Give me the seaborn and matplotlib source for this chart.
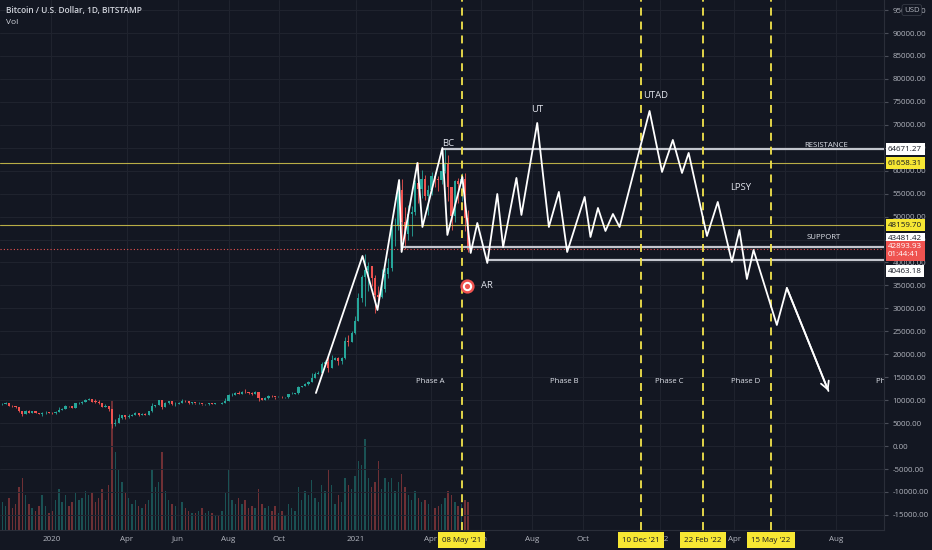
import numpy as np
import pandas as pd
import matplotlib
matplotlib.use("Agg")
import matplotlib.pyplot as plt
import matplotlib.dates as mdates
import matplotlib.transforms as mtransforms
from matplotlib.ticker import FixedLocator, FuncFormatter
import seaborn as sns

# colours (tradingview dark)
BG = "#131722"
GRID = "#20242f"
TXT = "#b2b5be"
UP = "#26a69a"
DOWN = "#ef5350"
YEL = "#f2e34c"
WHITE = "#e0e3eb"

# ---- candles, 4 day bars, BTCUSD Bitstamp ----
candle_start = "2019-11-01"
candle_step_days = 4
first_open = 9150
closes = [9250, 9300, 8800, 8700, 8500, 7600, 7050, 7750, 7300, 7550,
          7200, 7100, 7150, 7300, 7250, 7200, 7350, 7950, 8150, 8750,
          8650, 8400, 9350, 9350, 9600, 10150, 10250, 9700, 9650, 9300,
          8550, 8750, 8050, 4850, 5000, 6200, 6750, 6250, 6650, 6800,
          7300, 6850, 7050, 6850, 7550, 8800, 8900, 9950, 8600, 9350,
          9750, 9180, 9200, 9450, 9800, 9750, 9450, 9500, 9300, 9300,
          9100, 9100, 9350, 9250, 9250, 9150, 9400, 9900, 11100, 11200,
          11600, 11400, 11850, 11750, 11650, 11350, 11700, 10500, 10100, 10400,
          10950, 10900, 10700, 10700, 10600, 10600, 11300, 11450, 11500, 12950,
          13050, 13550, 14000, 14850, 15700, 15950, 17800, 18400, 17100, 18800,
          19150, 18550, 19200, 22800, 22700, 24700, 27350, 32200, 36800, 38300,
          39200, 36600, 33000, 32500, 34300, 37600, 38900, 47900, 47900, 55900,
          48800, 46300, 50500, 51100, 57300, 56000, 58100, 54400, 55900, 58800,
          58200, 58000, 60000, 61400, 56400, 50100, 57800, 57200, 58200, 49700,
          42894]
highs = [9400, 9550, 9350, 8900, 8800, 8550, 7650, 7850, 7800, 7650,
         7550, 7250, 7450, 7650, 7400, 7400, 7550, 8450, 8200, 8900,
         8800, 8700, 9450, 9550, 9750, 10200, 10500, 10300, 10200, 9950,
         9350, 9150, 8800, 8100, 5950, 6900, 6850, 6750, 6900, 6900,
         7450, 7300, 7200, 7150, 7650, 9450, 9050, 10050, 9950, 9550,
         9900, 9750, 9600, 9550, 10350, 9950, 9800, 9600, 9450, 9650,
         9250, 9250, 9450, 9400, 9350, 9200, 9550, 10400, 11400, 11500,
         11800, 12100, 12000, 12450, 11850, 11700, 12050, 11700, 10500, 10650,
         11050, 11100, 10750, 10950, 10900, 10700, 11450, 11700, 11600, 13200,
         13200, 13800, 14100, 15900, 16050, 16350, 18400, 18750, 19400, 19900,
         19400, 19350, 19400, 23700, 24100, 25000, 28400, 33300, 37200, 41900,
         40100, 38000, 37200, 34800, 38500, 38800, 40950, 48200, 49700, 57400,
         58300, 52000, 52600, 52400, 58000, 61800, 60200, 59000, 56800, 59700,
         59800, 58900, 61500, 64800, 63500, 56500, 57900, 58400, 59500, 59500,
         51500]
lows = [9050, 9150, 8750, 8600, 8350, 7450, 6550, 7000, 7250, 7250,
        7150, 6900, 6450, 7100, 7150, 7100, 6900, 7350, 7900, 8100,
        8500, 8250, 8400, 9200, 9150, 9600, 10050, 9550, 9450, 9250,
        8450, 8500, 7700, 3850, 4450, 4950, 5800, 5900, 6150, 6550,
        6750, 6600, 6800, 6750, 6850, 7500, 8500, 8850, 8100, 8500,
        9250, 8850, 8700, 9150, 9400, 9600, 9250, 9200, 9200, 9150,
        8950, 9050, 9000, 9150, 9150, 9100, 9100, 9400, 9850, 11000,
        11150, 11250, 11350, 11500, 11400, 11150, 11300, 9900, 9950, 10050,
        10350, 10750, 10200, 10600, 10400, 10550, 10550, 11250, 11300, 11450,
        12900, 13050, 13300, 13900, 14800, 15700, 15900, 17800, 16200, 17000,
        18650, 17700, 17800, 19000, 21900, 22700, 24500, 27300, 31500, 30500,
        33800, 34800, 29000, 30900, 32200, 33500, 36700, 38200, 43700, 47100,
        45000, 43000, 44950, 45700, 50400, 53000, 54100, 53700, 50400, 54700,
        56500, 55500, 57000, 59500, 53500, 47000, 48800, 53000, 53300, 46900,
        42200]
# volume, thousand BTC
volumes = [13, 11, 15, 10, 12, 20, 24, 16, 12, 10,
           9, 11, 16, 11, 8, 9, 14, 19, 13, 16,
           11, 13, 17, 14, 15, 18, 16, 17, 13, 15,
           19, 14, 21, 60, 36, 28, 22, 17, 15, 12,
           14, 11, 10, 12, 14, 28, 20, 22, 36, 18,
           14, 12, 11, 10, 13, 10, 9, 8, 8, 9,
           10, 8, 9, 8, 7, 7, 9, 17, 28, 14,
           12, 15, 12, 14, 10, 11, 10, 19, 12, 10,
           11, 9, 11, 8, 9, 7, 12, 10, 9, 20,
           14, 18, 16, 23, 15, 13, 21, 18, 28, 21,
           12, 16, 13, 24, 21, 19, 25, 32, 30, 42,
           24, 20, 22, 32, 19, 24, 22, 24, 18, 22,
           26, 20, 16, 14, 18, 15, 13, 14, 12, 11,
           10, 11, 12, 15, 18, 16, 13, 11, 12, 14,
           13]

# ---- drawn wyckoff path ----
path_dates = ["2020-11-14", "2021-01-09", "2021-01-27", "2021-02-22", "2021-02-25",
              "2021-03-16", "2021-03-22", "2021-04-15", "2021-04-21", "2021-05-09",
              "2021-05-19", "2021-05-27", "2021-06-08", "2021-06-20", "2021-06-27",
              "2021-07-13", "2021-07-19", "2021-08-07", "2021-08-21", "2021-09-02",
              "2021-09-12", "2021-10-03", "2021-10-10", "2021-10-19", "2021-10-28",
              "2021-11-06", "2021-11-14", "2021-12-20", "2022-01-04", "2022-01-17",
              "2022-01-28", "2022-02-05", "2022-02-27", "2022-03-12", "2022-03-29",
              "2022-04-07", "2022-04-16", "2022-04-24", "2022-05-22", "2022-06-03",
              "2022-07-23"]
path_prices = [11570, 41420, 29660, 57980, 42290, 61690, 47740, 64960, 46000, 58640,
               42080, 48610, 39900, 54930, 43380, 58420, 50360, 70400, 47740, 55370,
               42290, 54280, 45560, 51880, 46870, 50570, 47740, 73020, 59730, 66700,
               59510, 63870, 45780, 53190, 40120, 47090, 36410, 42730, 26390, 34450,
               12010]

white_levels = [64671.27, 43481.42, 40463.18]
white_level_from = ["2021-04-16", "2021-02-27", "2021-06-08"]
yellow_levels = [61658.31, 48159.70]
last_price = 42893.93
countdown = "01:44:41"

event_dates = ["2021-05-08", "2021-12-10", "2022-02-22", "2022-05-15"]
event_labels = ["08 May '21", "10 Dec '21", "22 Feb '22", "15 May '22"]

point_labels = ["BC", "AR", "UT", "UTAD", "LPSY", "RESISTANCE", "SUPPORT"]
point_dates = ["2021-04-22", "2021-06-07", "2021-08-07", "2021-12-27", "2022-04-09",
               "2022-07-20", "2022-07-17"]
point_prices = [65830, 34890, 73240, 76490, 56240, 65400, 45350]

phase_labels = ["Phase A", "Phase B", "Phase C", "Phase D", "Phase E"]
phase_dates = ["2021-04-01", "2021-09-09", "2022-01-13", "2022-04-15", "2022-10-05"]
phase_price = 13970

target_date = "2021-05-15"
target_price = 34890

tick_dates = ["2020-01-01", "2020-04-01", "2020-06-01", "2020-08-01", "2020-10-01",
              "2021-01-01", "2021-04-01", "2021-06-01", "2021-08-01", "2021-10-01",
              "2022-01-01", "2022-04-01", "2022-06-01", "2022-08-01"]
tick_labels = ["2020", "Apr", "Jun", "Aug", "Oct", "2021", "Apr", "Jun", "Aug", "Oct",
               "2022", "Apr", "Jun", "Aug"]
price_ticks = list(range(-15000, 95001, 5000))

x_left = "2019-10-31 07:00"
x_right = "2022-09-27 19:00"
y_low, y_high = -18280, 97190


def dnum(s):
    return mdates.date2num(pd.to_datetime(s))


sns.set_style("dark", {"axes.facecolor": BG, "figure.facecolor": BG,
                       "axes.edgecolor": "#2a2e39", "grid.color": GRID})
plt.rcParams['font.family'] = ['Open Sans', 'DejaVu Sans']

fig = plt.figure(figsize=(9.32, 5.5), dpi=100)
fig.patch.set_facecolor(BG)
ax = fig.add_axes([0, 20 / 550, 884 / 932, 530 / 550])
axv = ax.twinx()
ax.set_zorder(2)
axv.set_zorder(1)
ax.patch.set_visible(False)
axv.patch.set_facecolor(BG)

# volume
cdates = mdates.date2num(pd.date_range(candle_start, periods=len(closes),
                                       freq="%dD" % candle_step_days)) + candle_step_days / 2
closes_a = np.array(closes, dtype=float)
opens = np.array([first_open] + closes[:-1], dtype=float)
cols = np.where(closes_a >= opens, UP, DOWN)
axv.bar(cdates, volumes, width=1.7, color=cols, alpha=0.42, linewidth=0)
axv.set_ylim(0, 245)
axv.set_yticks([])
for s in axv.spines.values():
    s.set_visible(False)

# candles
ax.vlines(cdates, lows, highs, colors=cols, lw=0.6, zorder=3)
ax.bar(cdates, np.maximum(np.abs(closes_a - opens), 80), bottom=np.minimum(opens, closes_a),
       width=2.6, color=cols, linewidth=0, zorder=3)

xmin, xmax = dnum(x_left), dnum(x_right)

# levels
for p in yellow_levels:
    ax.axhline(p, color="#d6c94d", lw=0.8, alpha=0.85, zorder=4)
ax.axhline(last_price, color=DOWN, lw=0.8, ls=(0, (1, 2)), zorder=4)
for p, start in zip(white_levels, white_level_from):
    ax.hlines(p, dnum(start), xmax, color="#c3c6ce", lw=1.6, zorder=4)

# event lines
for d in event_dates:
    ax.axvline(dnum(d), color=YEL, lw=1.3, ls=(0, (4.4, 3.3)), zorder=5)

# the zigzag
path_df = pd.DataFrame({"date": dnum(path_dates), "price": path_prices})
sns.lineplot(data=path_df, x="date", y="price", sort=False, estimator=None,
             color="white", lw=1.3, ax=ax, zorder=6)
ax.annotate("", xy=(path_df.date.iloc[-1], path_df.price.iloc[-1]),
            xytext=(path_df.date.iloc[-2], path_df.price.iloc[-2]),
            arrowprops=dict(arrowstyle="->,head_length=0.55,head_width=0.3",
                            color="white", lw=1.3, shrinkA=0, shrinkB=0), zorder=6)

# target marker
td, tp = dnum(target_date), target_price
ax.scatter([td], [tp], s=105, color=DOWN, zorder=7, linewidths=0)
ax.scatter([td], [tp], s=45, color="white", zorder=7, linewidths=0)
ax.scatter([td], [tp], s=14, color=DOWN, zorder=7, linewidths=0)

for lab, d, p in zip(point_labels, point_dates, point_prices):
    fs = 5.6 if lab in ("RESISTANCE", "SUPPORT") else 6.8
    ax.text(dnum(d), p, lab, color=WHITE, fontsize=fs, ha="center", va="center", zorder=8)
for lab, d in zip(phase_labels, phase_dates):
    ax.text(dnum(d), phase_price, lab, color=WHITE, fontsize=5.6, ha="center",
            va="center", zorder=8, clip_on=True)

# axes styling
ax.set_xlim(xmin, xmax)
ax.set_ylim(y_low, y_high)
ax.set_xlabel("")
ax.set_ylabel("")
ax.yaxis.tick_right()
ax.yaxis.set_major_locator(FixedLocator(price_ticks))
ax.yaxis.set_major_formatter(FuncFormatter(lambda v, pos: "%.2f" % v))
ax.xaxis.set_major_locator(FixedLocator(dnum(tick_dates)))
ax.xaxis.set_major_formatter(FuncFormatter(lambda v, pos: tick_labels[pos] if pos is not None and pos < len(tick_labels) else ""))
ax.tick_params(axis="y", colors=TXT, labelsize=5.7, length=3, pad=3, labelcolor=TXT)
ax.tick_params(axis="y", color="#4a4e59")
ax.tick_params(axis="x", colors=TXT, labelsize=5.8, length=0, pad=4)
ax.grid(True, color=GRID, lw=0.7)
ax.set_axisbelow(True)
for k in ("top", "left"):
    ax.spines[k].set_visible(False)
for k in ("right", "bottom"):
    ax.spines[k].set_color("#2a2e39")
    ax.spines[k].set_linewidth(0.8)

# price labels on the right scale
trans_r = mtransforms.blended_transform_factory(ax.transAxes, ax.transData)


def price_box(price, text, fc, tc, dy=0, va="center"):
    tr = mtransforms.offset_copy(trans_r, fig=fig, x=4, y=dy, units="dots")
    ax.text(1.0, price, text, transform=tr, ha="left", va=va, fontsize=5.8, color=tc,
            linespacing=1.25, bbox=dict(boxstyle="square,pad=0.3", fc=fc, ec="none"),
            zorder=10, clip_on=False)


price_box(white_levels[0], "%.2f" % white_levels[0], "white", "#131722")
price_box(yellow_levels[0], "%.2f" % yellow_levels[0], "#f7e733", "#131722")
price_box(yellow_levels[1], "%.2f" % yellow_levels[1], "#f7e733", "#131722")
price_box(white_levels[1], "%.2f" % white_levels[1], "white", "#131722", dy=8)
price_box(white_levels[2], "%.2f" % white_levels[2], "white", "#131722", dy=-11)
price_box(last_price, "%.2f\n%s" % (last_price, countdown), DOWN, "white", dy=6, va="top")

# USD button over the top label
tr_usd = mtransforms.offset_copy(trans_r, fig=fig, x=20, units="dots")
ax.text(1.0, price_ticks[-1], "USD", transform=tr_usd, ha="left", va="center", fontsize=5.6,
        color=TXT, bbox=dict(boxstyle="round,pad=0.25", fc=BG, ec="#363a45", lw=0.6),
        zorder=10, clip_on=False)

# date labels on the time scale
trans_b = mtransforms.blended_transform_factory(ax.transData, ax.transAxes)
tr_b = mtransforms.offset_copy(trans_b, fig=fig, y=-10, units="dots")
for d, lab in zip(event_dates, event_labels):
    ax.text(dnum(d), 0, lab, transform=tr_b, ha="center", va="center", fontsize=5.7,
            color="#131722", bbox=dict(boxstyle="square,pad=0.55", fc="#f7e733", ec="none"),
            zorder=10, clip_on=False)

fig.text(6 / 932, 1 - 10 / 550, "Bitcoin / U.S. Dollar, 1D, BITSTAMP", color="#d1d4dc",
         fontsize=6, va="center", ha="left", fontweight="semibold")
fig.text(6 / 932, 1 - 23 / 550, "Vol", color="#d1d4dc", fontsize=6, va="center", ha="left")

fig.savefig("out.png", dpi=100, facecolor=BG)
